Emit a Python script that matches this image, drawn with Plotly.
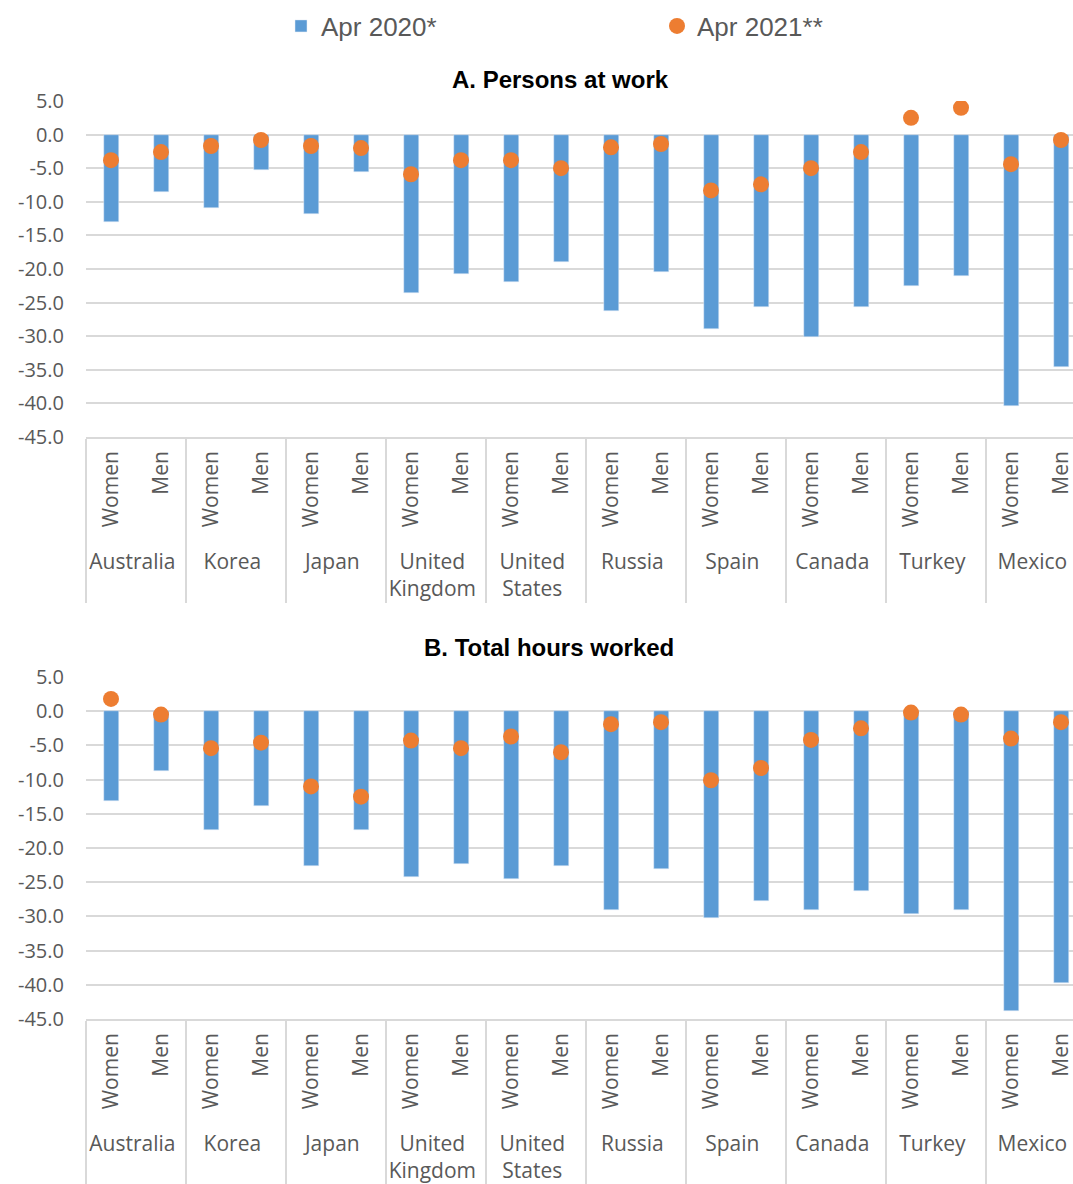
import plotly.graph_objects as go
from plotly.subplots import make_subplots

countries = ["Australia", "Korea", "Japan", "United<br>Kingdom", "United<br>States",
             "Russia", "Spain", "Canada", "Turkey", "Mexico"]
sexes = ["Women", "Men"]

# Panel A: persons at work (% change)
work_2020 = [-13.0, -8.5, -10.9, -5.2, -11.8, -5.5, -23.5, -20.8, -22.0, -19.0,
             -26.2, -20.5, -28.9, -25.6, -30.1, -25.6, -22.6, -21.1, -40.4, -34.6]
work_2021 = [-3.8, -2.6, -1.7, -0.8, -1.7, -2.0, -5.9, -3.8, -3.8, -5.0,
             -1.9, -1.4, -8.3, -7.4, -5.0, -2.6, 2.5, 4.0, -4.4, -0.8]

# Panel B: total hours worked (% change)
hours_2020 = [-13.2, -8.8, -17.3, -13.8, -22.6, -17.3, -24.3, -22.3, -24.6, -22.6,
              -29.0, -23.1, -30.2, -27.8, -29.0, -26.3, -29.6, -29.0, -43.8, -39.8]
hours_2021 = [1.8, -0.5, -5.4, -4.6, -11.0, -12.5, -4.3, -5.4, -3.7, -6.0,
              -1.9, -1.6, -10.1, -8.3, -4.2, -2.5, -0.2, -0.5, -4.0, -1.6]

titles = ["A. Persons at work", "B. Total hours worked"]
series_names = ["Apr 2020*", "Apr 2021**"]
y_ticks = [5, 0, -5, -10, -15, -20, -25, -30, -35, -40, -45]
y_labels = ["5.0", "0.0", "-5.0", "-10.0", "-15.0", "-20.0", "-25.0",
            "-30.0", "-35.0", "-40.0", "-45.0"]

BLUE = "#5B9BD5"
ORANGE = "#ED7D31"
GRID = "#D9D9D9"
LABEL = "#595959"

W, H = 1073, 1184
L = 86


def fx(px):
    return (px - L) / (W - L)


def fy(py):
    return 1 - py / H


# a no-break space in front of the inner label leaves a little more room
# above the country names, like the original
x_cats = [[c for c in countries for _ in sexes],
          ["\u00a0" + s for _ in countries for s in sexes]]

fig = make_subplots(rows=2, cols=1)

panels = [(work_2020, work_2021), (hours_2020, hours_2021)]
for i, (bars, dots) in enumerate(panels):
    row = i + 1
    fig.add_trace(go.Bar(x=x_cats, y=bars, name=series_names[0], marker_color=BLUE,
                         width=0.3, showlegend=(i == 0)), row=row, col=1)
    fig.add_trace(go.Scatter(x=x_cats, y=dots, name=series_names[1], mode="markers",
                             marker=dict(color=ORANGE, size=16), showlegend=(i == 0)),
                  row=row, col=1)

# plot areas, in reference pixels
domains = [(101, 437), (677, 1019)]
for i, (top, bottom) in enumerate(domains):
    n = "" if i == 0 else "2"
    fig.layout["yaxis" + n].update(
        domain=[fy(bottom), fy(top)], range=[-45, 5], automargin=False,
        tickvals=y_ticks, ticktext=y_labels, showgrid=True, gridcolor=GRID, gridwidth=1.5,
        zeroline=False, showline=False, ticklabelstandoff=21,
        tickfont=dict(family="Open Sans", size=20, color=LABEL))
    fig.layout["xaxis" + n].update(
        domain=[0, 1], range=[-0.5, 19.24], type="multicategory", tickangle=-90,
        automargin=False, showline=True, linecolor=GRID, linewidth=1.5,
        showdividers=True, dividercolor=GRID, dividerwidth=1.5, showgrid=False,
        ticks="", ticklabelstandoff=4,
        tickfont=dict(family="Open Sans", size=21, color=LABEL))

title_pos = [(560, 79), (549, 647)]
for t, (px_, py_) in zip(titles, title_pos):
    fig.add_annotation(text="<b>" + t + "</b>", xref="paper", yref="paper",
                       x=fx(px_), y=fy(py_), showarrow=False,
                       xanchor="center", yanchor="middle",
                       font=dict(family="Liberation Sans", size=24, color="black"))

fig.update_layout(
    width=W, height=H, margin=dict(l=L, r=0, t=0, b=0),
    plot_bgcolor="white", paper_bgcolor="white", bargap=0,
    legend=dict(orientation="h", x=fx(281), xanchor="left",
                y=fy(26), yanchor="middle", entrywidth=331, entrywidthmode="pixels",
                font=dict(family="Liberation Sans", size=26, color=LABEL)),
)

fig.write_html("out.html", config={"displayModeBar": False},
               post_script="document.body.style.margin = '0';")
